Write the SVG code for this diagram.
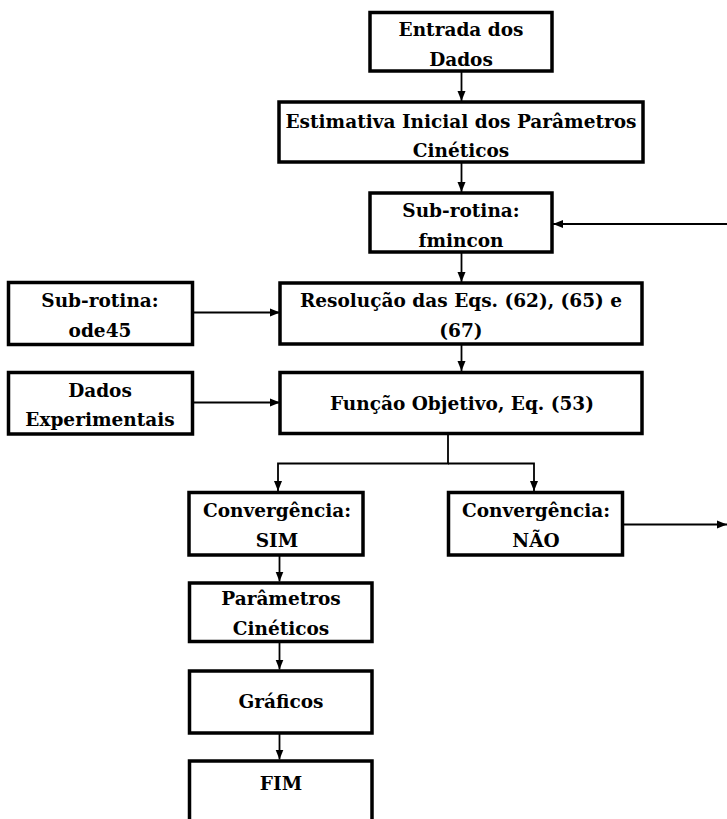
<svg xmlns="http://www.w3.org/2000/svg" width="727" height="819" viewBox="0 0 727 819">
<style>
.box{fill:#fff;stroke:#000;stroke-width:3.5}
.t{font-family:"DejaVu Serif","Liberation Serif",serif;font-weight:bold;font-size:18.5px;text-anchor:middle;fill:#000}
.c{fill:none;stroke:#000;stroke-width:1.8}
</style>
<defs>
<marker id="ah" markerUnits="userSpaceOnUse" markerWidth="10" markerHeight="10" viewBox="0 0 10 10" refX="10" refY="5" orient="auto">
<path d="M0,1 L10,5 L0,9 Z" fill="#000"/>
</marker>
</defs>
<rect width="727" height="819" fill="#fff"/>
<g id="connectors">
<line class="c" x1="461.5" y1="71" x2="461.5" y2="101" marker-end="url(#ah)"/>
<line class="c" x1="461.5" y1="162" x2="461.5" y2="192" marker-end="url(#ah)"/>
<line class="c" x1="461.5" y1="252" x2="461.5" y2="282" marker-end="url(#ah)"/>
<line class="c" x1="461.5" y1="344" x2="461.5" y2="371" marker-end="url(#ah)"/>
<line class="c" x1="192.5" y1="312.5" x2="280" y2="312.5" marker-end="url(#ah)"/>
<line class="c" x1="192.5" y1="402.5" x2="280" y2="402.5" marker-end="url(#ah)"/>
<polyline class="c" points="448,433.5 448,463.5 278,463.5 278,491" marker-end="url(#ah)"/>
<polyline class="c" points="448,463.5 534,463.5 534,491" marker-end="url(#ah)"/>
<line class="c" x1="279.5" y1="555" x2="279.5" y2="581.5" marker-end="url(#ah)"/>
<line class="c" x1="279.5" y1="642" x2="279.5" y2="669.5" marker-end="url(#ah)"/>
<line class="c" x1="279.5" y1="733" x2="279.5" y2="759.5" marker-end="url(#ah)"/>
<line class="c" x1="622.5" y1="524.5" x2="727" y2="524.5" marker-end="url(#ah)"/>
<line class="c" x1="727" y1="224" x2="553" y2="224" marker-end="url(#ah)"/>
</g>
<g id="entrada">
<rect class="box" x="370" y="12.5" width="182" height="58.5"/>
<text class="t" x="461" y="36">Entrada dos</text>
<text class="t" x="461" y="66">Dados</text>
</g>
<g id="estimativa">
<rect class="box" x="279" y="102" width="364" height="60"/>
<text class="t" x="461" y="128">Estimativa Inicial dos Parâmetros</text>
<text class="t" x="461" y="157">Cinéticos</text>
</g>
<g id="fmincon">
<rect class="box" x="370" y="193" width="182" height="59"/>
<text class="t" x="461" y="217">Sub-rotina:</text>
<text class="t" x="461" y="247">fmincon</text>
</g>
<g id="resolucao">
<rect class="box" x="280" y="283" width="362" height="61"/>
<text class="t" x="461" y="307">Resolução das Eqs. (62), (65) e</text>
<text class="t" x="461" y="337">(67)</text>
</g>
<g id="funcao">
<rect class="box" x="280" y="372.5" width="362" height="61"/>
<text class="t" x="462" y="410">Função Objetivo, Eq. (53)</text>
</g>
<g id="ode45">
<rect class="box" x="8.5" y="282.5" width="184" height="62"/>
<text class="t" x="100" y="307">Sub-rotina:</text>
<text class="t" x="100" y="337">ode45</text>
</g>
<g id="dados">
<rect class="box" x="8.5" y="372.5" width="184" height="61.5"/>
<text class="t" x="100" y="397">Dados</text>
<text class="t" x="100" y="426">Experimentais</text>
</g>
<g id="sim">
<rect class="box" x="189" y="492.5" width="174" height="62.5"/>
<text class="t" x="277" y="517">Convergência:</text>
<text class="t" x="277" y="547">SIM</text>
</g>
<g id="nao">
<rect class="box" x="448.5" y="492.5" width="174" height="62.5"/>
<text class="t" x="536" y="517">Convergência:</text>
<text class="t" x="536" y="547">NÃO</text>
</g>
<g id="parametros">
<rect class="box" x="189.5" y="583" width="182.5" height="58.5"/>
<text class="t" x="281" y="605">Parâmetros</text>
<text class="t" x="281" y="635">Cinéticos</text>
</g>
<g id="graficos">
<rect class="box" x="189.5" y="671" width="182.5" height="62"/>
<text class="t" x="281" y="708">Gráficos</text>
</g>
<g id="fim">
<rect class="box" x="189.5" y="761" width="182.5" height="70"/>
<text class="t" x="281" y="790">FIM</text>
</g>
</svg>
